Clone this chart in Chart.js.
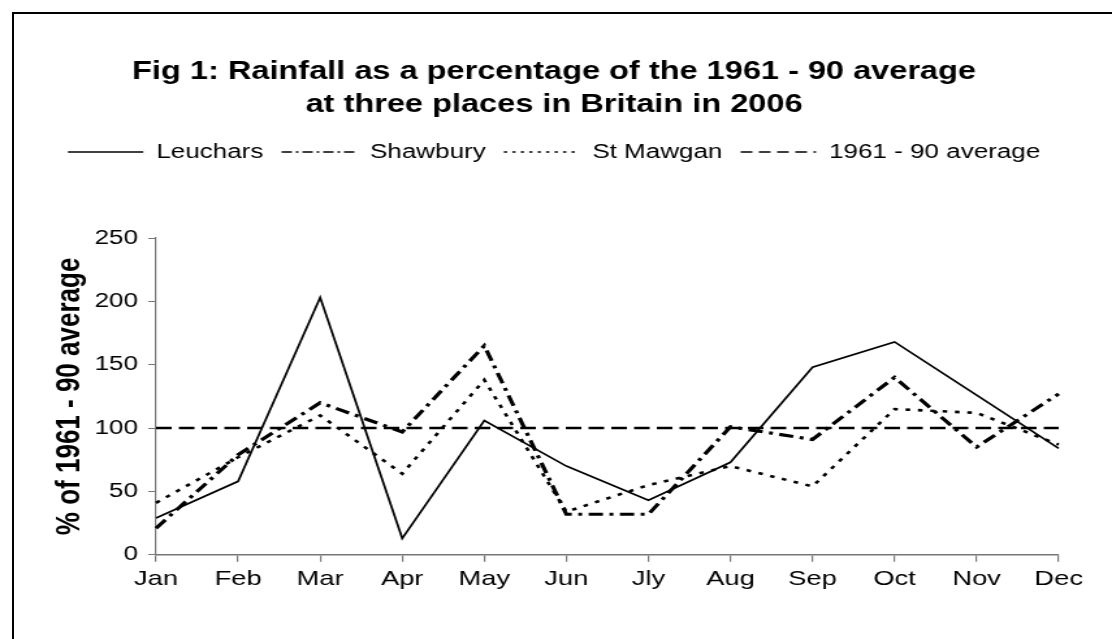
<!DOCTYPE html>
<html>
<head>
<meta charset="utf-8">
<title>Rainfall 2006</title>
<script src="https://cdn.jsdelivr.net/npm/chart.js@4/dist/chart.umd.min.js"></script>
<style>
    html, body { margin: 0; padding: 0; background: #fff; overflow: hidden; }
    #wrap { position: relative; width: 1112px; height: 639px; }
    #frame {
        position: absolute; left: 12px; top: 12px; width: 1200px; height: 700px;
        border-left: 2px solid #000; border-top: 2px solid #000; pointer-events: none;
    }
</style>
</head>
<body>
<div id="wrap">
    <!-- the original figure is stretched sideways, so the canvas is too -->
    <canvas id="rainChart" width="855" height="639" style="width:1112px;height:639px"></canvas>
    <div id="frame"></div>
</div>
<script>
// Data (% of 1961-90 average)
const months = ['Jan', 'Feb', 'Mar', 'Apr', 'May', 'Jun', 'Jly', 'Aug', 'Sep', 'Oct', 'Nov', 'Dec'];
const leuchars = [29, 58, 203, 13, 106, 70, 43, 73, 148, 168, 126, 84];
const shawbury = [21, 79, 120, 97, 165, 32, 32, 101, 91, 140, 85, 127];
const stMawgan = [41, 77, 110, 64, 138, 34, 55, 70, 54, 115, 112, 87];
const average = [100, 100, 100, 100, 100, 100, 100, 100, 100, 100, 100, 100];
const yTicks = [0, 50, 100, 150, 200, 250];

// Legend samples are drawn thin with shorter dashes
const legendDash = [[], [8, 3, 2, 3], [2.5, 4], [9, 5]];

Chart.defaults.font.family = '"Liberation Sans", Arial, sans-serif';
Chart.defaults.color = '#000';

// extra room between the legend and the plot
const legendGap = {
    id: 'legendGap',
    afterInit(chart) {
        const legend = chart.legend;
        if (!legend) return;
        const fit = legend.fit;
        legend.fit = function() {
            fit.call(this);
            this.height += 66;
        };
    }
};

function makeLine(label, data, width, dash) {
    return {
        label: label,
        data: data,
        borderColor: '#000',
        backgroundColor: '#000',
        borderWidth: width,
        borderDash: dash,
        pointRadius: 0,
        tension: 0,
        fill: false
    };
}

const ctx = document.getElementById('rainChart');
new Chart(ctx, {
    type: 'line',
    data: {
        labels: months,
        datasets: [
            makeLine('Leuchars', leuchars, 1.7, []),
            makeLine('Shawbury', shawbury, 3.2, [11, 5, 3, 5]),
            makeLine('St Mawgan', stMawgan, 2.6, [3.5, 6]),
            makeLine('1961 - 90 average', average, 2.5, [12, 5.5])
        ]
    },
    plugins: [legendGap],
    options: {
        responsive: false,
        animation: false,
        layout: { padding: { left: 38, right: 41, top: 0, bottom: 42 } },
        plugins: {
            tooltip: { enabled: false },
            title: {
                display: true,
                text: ['Fig 1: Rainfall as a percentage of the 1961 - 90 average',
                       'at three places in Britain in 2006'],
                font: { size: 25, weight: 'bold', lineHeight: 1.32 },
                padding: { top: 56, bottom: 6 }
            },
            legend: {
                position: 'top',
                labels: {
                    font: { size: 20 },
                    usePointStyle: true,
                    pointStyle: 'line',
                    pointStyleWidth: 58,
                    padding: 14,
                    generateLabels: function(chart) {
                        const items = Chart.defaults.plugins.legend.labels.generateLabels(chart);
                        items.forEach((item, i) => {
                            item.lineWidth = 1.4;
                            item.lineDash = legendDash[i];
                            item.pointStyle = 'line';
                        });
                        return items;
                    }
                }
            }
        },
        scales: {
            x: {
                offset: false,
                grid: { display: true, drawOnChartArea: false, tickLength: 7, color: '#777', lineWidth: 1.2 },
                border: { display: true, color: '#777', width: 1.5 },
                ticks: { font: { size: 21 }, padding: 5, maxRotation: 0, autoSkip: false }
            },
            y: {
                min: 0,
                max: 250,
                afterBuildTicks: function(scale) {
                    scale.ticks = yTicks.map(v => ({ value: v }));
                },
                grid: { display: true, drawOnChartArea: false, tickLength: 6, color: '#777' },
                border: { display: true, color: '#777', width: 1.2 },
                ticks: { font: { size: 20 }, padding: 8 },
                title: {
                    display: true,
                    text: '% of 1961 - 90 average',
                    font: { size: 26, weight: 'bold' },
                    padding: { top: 0, bottom: 4 }
                },
                afterFit: function(scale) { scale.width = 82; }
            }
        }
    }
});
</script>
</body>
</html>
